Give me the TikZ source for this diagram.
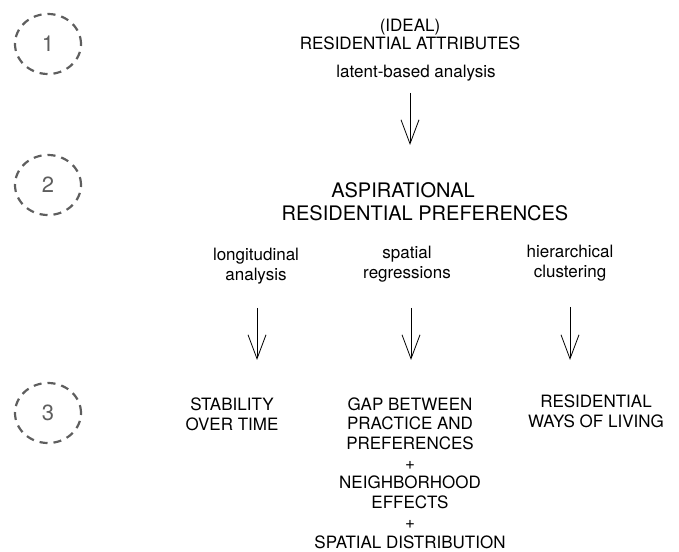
\documentclass[tikz,border=0pt]{standalone}
\usepackage{fontspec}
\setmainfont{TeX Gyre Heros}
\usetikzlibrary{shapes.geometric, arrows.meta, positioning}
\definecolor{stagegray}{HTML}{5E5E5E}
\tikzstyle{stage} = [ellipse, draw=stagegray, line width=2.2pt, dash pattern=on 8pt off 6pt, minimum width=66pt, minimum height=60pt, inner sep=0pt, text=stagegray, font=\fontsize{22}{22}\selectfont]
\tikzstyle{method} = [align=center, inner sep=0pt, anchor=base, font=\fontsize{17}{20}\selectfont]
\tikzstyle{result} = [align=center, inner sep=0pt, anchor=base, font=\fontsize{17}{19.7}\selectfont]
\tikzstyle{arrow} = [line width=0.8pt, -{Straight Barb[length=24pt, width=18pt]}]

\begin{document}
\begin{tikzpicture}[x=1pt, y=-1pt]
	\useasboundingbox (0,0) rectangle (679,551);
	% numbered stages on the left
	\foreach \n/\y in {1/44, 2/185, 3/413}
		\node[stage] (stage\n) at (48,\y) {\n};

	% multi-line nodes sit on the baseline of their last line
	\node (ideal) [method, font=\fontsize{17}{17.5}\selectfont] at (410,49.5) {(IDEAL)\\RESIDENTIAL ATTRIBUTES};
	\node (latent) [method] at (416,77) {latent-based analysis};
	\node (aspir) [method, font=\fontsize{20}{20}\selectfont] at (403,197) {ASPIRATIONAL};
	\node (prefs) [method, font=\fontsize{20}{20}\selectfont] at (425,220) {RESIDENTIAL PREFERENCES};

	\node (longit) [method] at (256,280) {longitudinal\\analysis};
	\node (spatreg) [method] at (407,278) {spatial\\regressions};
	\node (hier) [method] at (570,277) {hierarchical\\clustering};

	\node (stability) [result] at (232,430) {STABILITY\\OVER TIME};
	\node (gap) [result] at (410,548) {GAP BETWEEN\\PRACTICE AND\\PREFERENCES\\+\\NEIGHBORHOOD\\EFFECTS\\+\\SPATIAL DISTRIBUTION};
	\node (ways) [result] at (596,427) {RESIDENTIAL\\WAYS OF LIVING};

	\draw [arrow] ([xshift=-6pt, yshift=-12pt]latent.south) -- ++(0,52);
	\draw [arrow] ([xshift=1pt, yshift=-24pt]longit.south) -- ++(0,52);
	\draw [arrow] ([xshift=4pt, yshift=-26pt]spatreg.south) -- ++(0,52);
	\draw [arrow] ([yshift=-26pt]hier.south) -- ++(0,53);
\end{tikzpicture}
\end{document}
